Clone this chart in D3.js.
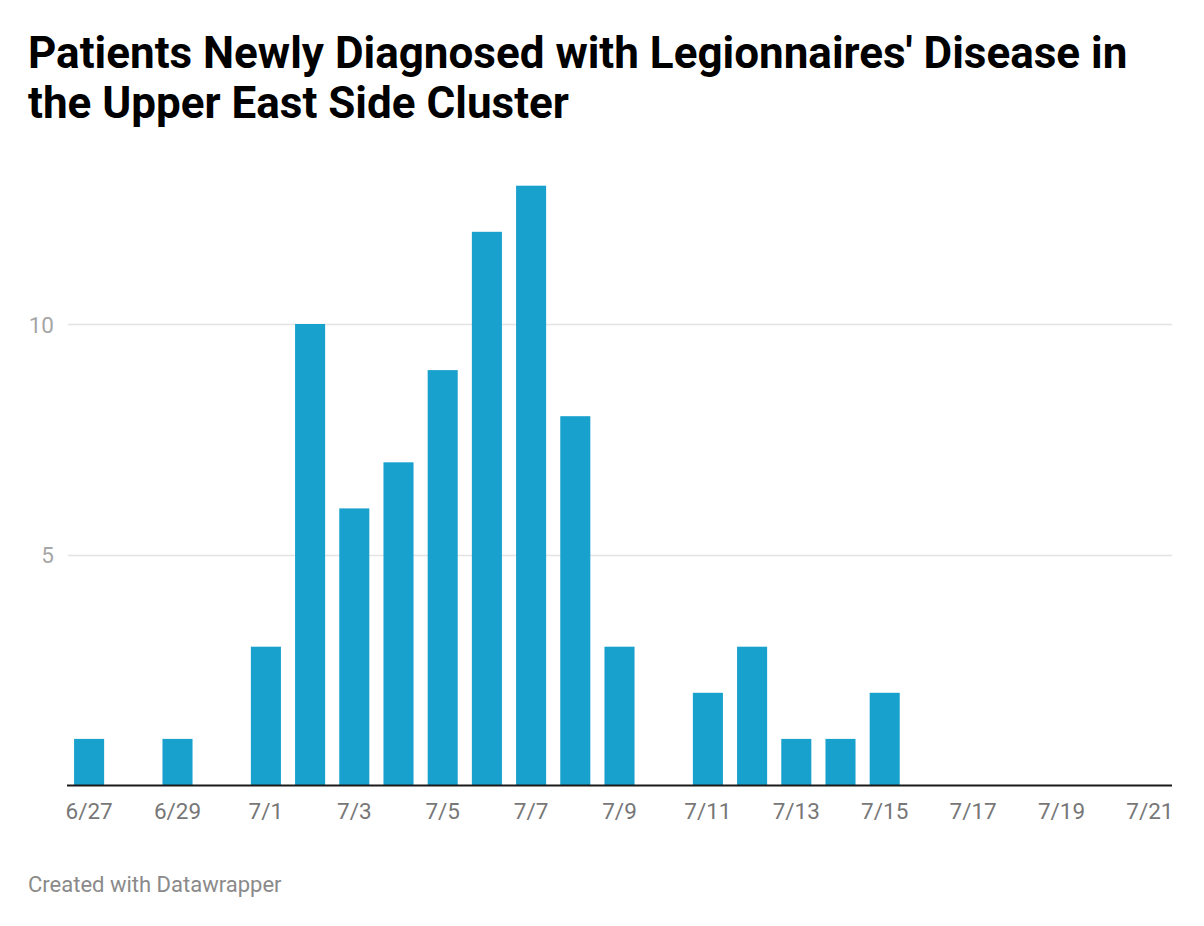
<!DOCTYPE html>
<html>
<head>
<meta charset="utf-8">
<script src="https://cdn.jsdelivr.net/npm/d3@7"></script>
<style>
  html, body { margin: 0; padding: 0; background: #fff; }
  svg { display: block; font-family: Roboto, "Noto Sans", sans-serif; }
</style>
</head>
<body>
<svg id="chart" width="1204" height="926"></svg>
<script>
const dates = ["6/27","6/28","6/29","6/30","7/1","7/2","7/3","7/4","7/5","7/6","7/7","7/8","7/9","7/10","7/11","7/12","7/13","7/14","7/15","7/16","7/17","7/18","7/19","7/20","7/21"];
const patients = [1,0,1,0,3,10,6,7,9,12,13,8,3,0,2,3,1,1,2,0,0,0,0,0,0];
const tickLabels = ["6/27","6/29","7/1","7/3","7/5","7/7","7/9","7/11","7/13","7/15","7/17","7/19","7/21"];
const yTicks = [5, 10];
const titleLines = ["Patients Newly Diagnosed with Legionnaires' Disease in", "the Upper East Side Cluster"];

const svg = d3.select("#chart");
const left = 67, right = 1172, bottom = 785;

const x = d3.scaleBand().domain(dates).range([left, right]).paddingInner(0.32).paddingOuter(0.16);
const y = d3.scaleLinear().domain([0, 13]).range([bottom, bottom - 13 * 46.1]);

// title
svg.append("g").selectAll("text").data(titleLines).join("text")
  .attr("x", 28).attr("y", (d, i) => 68 + i * 50)
  .attr("font-size", 44).attr("font-weight", 700).attr("fill", "#000")
  .text(d => d);

// grid
const grid = svg.append("g");
grid.selectAll("line").data(yTicks).join("line")
  .attr("x1", left + 1).attr("x2", right)
  .attr("y1", d => Math.round(y(d)) + 0.5).attr("y2", d => Math.round(y(d)) + 0.5)
  .attr("stroke", "#e3e3e3").attr("stroke-width", 1.5);
grid.selectAll("text").data(yTicks).join("text")
  .attr("x", 54).attr("y", d => y(d) + 8.5)
  .attr("text-anchor", "end").attr("font-size", 22.5).attr("fill", "#a6a6a6")
  .text(d => d);

// bars
svg.append("g").selectAll("rect").data(dates.map((d, i) => ({d, v: patients[i]}))).join("rect")
  .attr("x", d => x(d.d)).attr("width", x.bandwidth())
  .attr("y", d => y(d.v)).attr("height", d => y(0) - y(d.v))
  .attr("fill", "#18a1cd");

// baseline
svg.append("line").attr("x1", left).attr("x2", right)
  .attr("y1", bottom + 0.5).attr("y2", bottom + 0.5)
  .attr("stroke", "#1a1a1a").attr("stroke-width", 2);

// x labels
const xAxis = d3.axisBottom(x).tickValues(tickLabels).tickSize(0).tickPadding(0);
const gx = svg.append("g").attr("transform", `translate(0,${bottom})`).call(xAxis);
gx.select(".domain").remove();
gx.selectAll("text").attr("dy", null).attr("y", 34)
  .attr("font-size", 22.5).attr("font-family", "Roboto, sans-serif").attr("fill", "#777");

// footer
svg.append("text").attr("x", 28).attr("y", 892)
  .attr("font-size", 22).attr("fill", "#8a8a8a")
  .text("Created with Datawrapper");
</script>
</body>
</html>
